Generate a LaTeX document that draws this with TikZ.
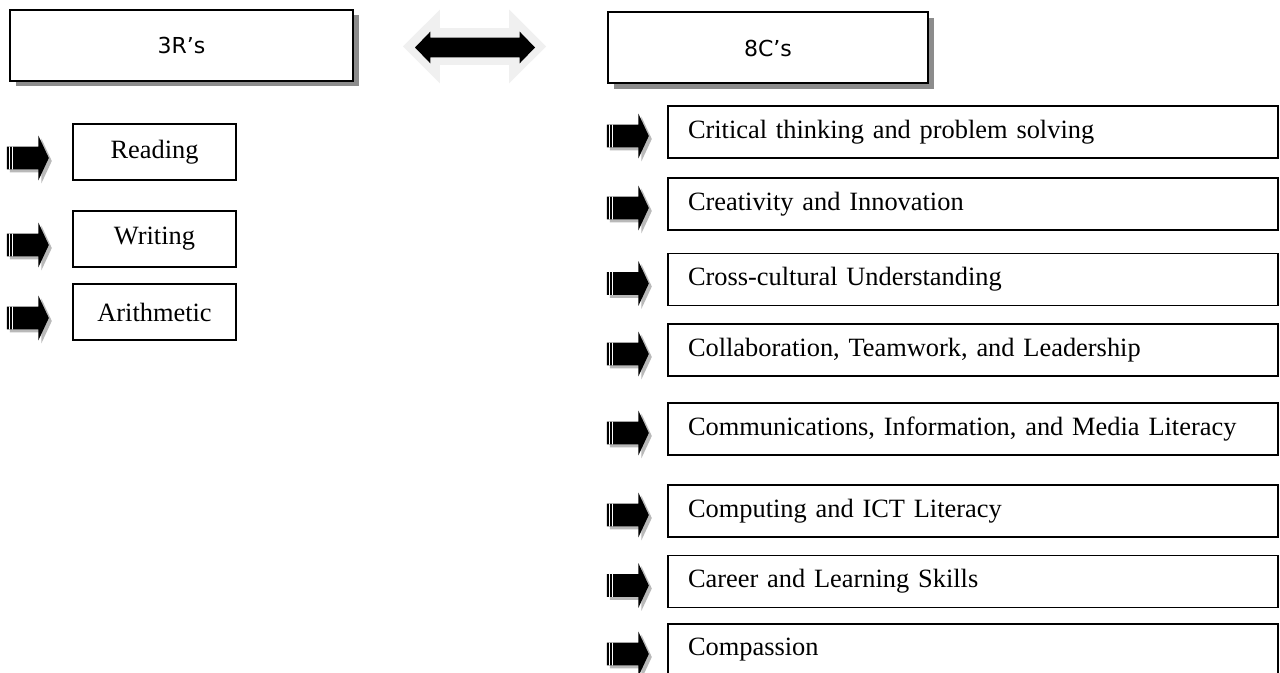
\documentclass[tikz,border=0pt]{standalone}
\usepackage{fontspec}
\setmainfont{Liberation Serif}
\newfontfamily\headfont{DejaVu Sans}
\usetikzlibrary{positioning}
\usetikzlibrary{shapes.arrows}
\usetikzlibrary{shadows}

\begin{document}
\begin{tikzpicture}[x = 0.5pt, y = -0.5pt, font = \fontsize{13.2}{16}\selectfont]
\tikzstyle{headStyle} = [draw, line width = 1pt, fill = white, minimum height = 35.5pt, font = \headfont\fontsize{11}{13}\selectfont, drop shadow = {shadow xshift = 2.75pt, shadow yshift = -2.75pt, fill = gray!90, opacity = 1}]
\tikzstyle{skillStyle} = [draw, line width = 0.75pt, fill = white, minimum width = 81.5pt, minimum height = 28pt]
\tikzstyle{itemStyle} = [draw, line width = 0.75pt, fill = white, minimum height = 26pt, text width = 285pt, inner xsep = 10pt, align = left]
\tikzstyle{bulletStyle} = [single arrow, fill = black, inner xsep = 0pt, inner ysep = 5.5pt, minimum height = 21pt, single arrow head extend = 5.5pt, single arrow tip angle = 130, drop shadow = {shadow xshift = 1.5pt, shadow yshift = -1.5pt, fill = gray!55, opacity = 1}, path picture = {\foreach \dx in {1.2pt, 2.7pt} \draw[white, line width = 0.5pt] ([xshift = \dx]path picture bounding box.south west) -- ([xshift = \dx]path picture bounding box.north west);}]
\fill[white] (0,0) rectangle (1280,673);
\useasboundingbox (0,0) rectangle (1280,673);
% headings and the link between them
\node[headStyle, minimum width = 171.5pt] (r) at (181.5,45.5) {3R’s};
\node[headStyle, minimum width = 160pt] (c) at (768,48) {8C’s};
\node[double arrow, fill = gray!12, inner xsep = 0pt, inner ysep = 9pt, minimum height = 71.5pt, double arrow head extend = 9.25pt, double arrow tip angle = 90] (linkBack) at (474.5,46.5) {};
\node[double arrow, fill = black, inner xsep = 0pt, inner ysep = 4.75pt, minimum height = 60pt, double arrow head extend = 3pt, double arrow tip angle = 92] (link) at (475,47.5) {};
% 3R's
\node[skillStyle] (r1) at (154.5,152) {Reading};
\node[skillStyle] (r2) at (154.5,239) {Writing};
\node[skillStyle] (r3) at (154.5,312) {Arithmetic};
\foreach \i in {1,2,3}
  \node[bulletStyle, left = 11.5pt of r\i, yshift = -3pt] (ar\i) {};
% 8C's
\node[itemStyle] (c1) at (973,132) {Critical thinking and problem solving};
\node[itemStyle] (c2) at (973,204) {Creativity and Innovation};
\node[itemStyle] (c3) at (973,279.5) {Cross-cultural Understanding};
\node[itemStyle] (c4) at (973,350) {Collaboration, Teamwork, and Leadership};
\node[itemStyle] (c5) at (973,429) {Communications, Information, and Media Literacy};
\node[itemStyle] (c6) at (973,511) {Computing and ICT Literacy};
\node[itemStyle] (c7) at (973,581.5) {Career and Learning Skills};
\node[itemStyle] (c8) at (973,650) {Compassion};
\foreach \i in {1,...,8}
  \node[bulletStyle, left = 9pt of c\i, yshift = -2pt] (ac\i) {};
\end{tikzpicture}
\end{document}
